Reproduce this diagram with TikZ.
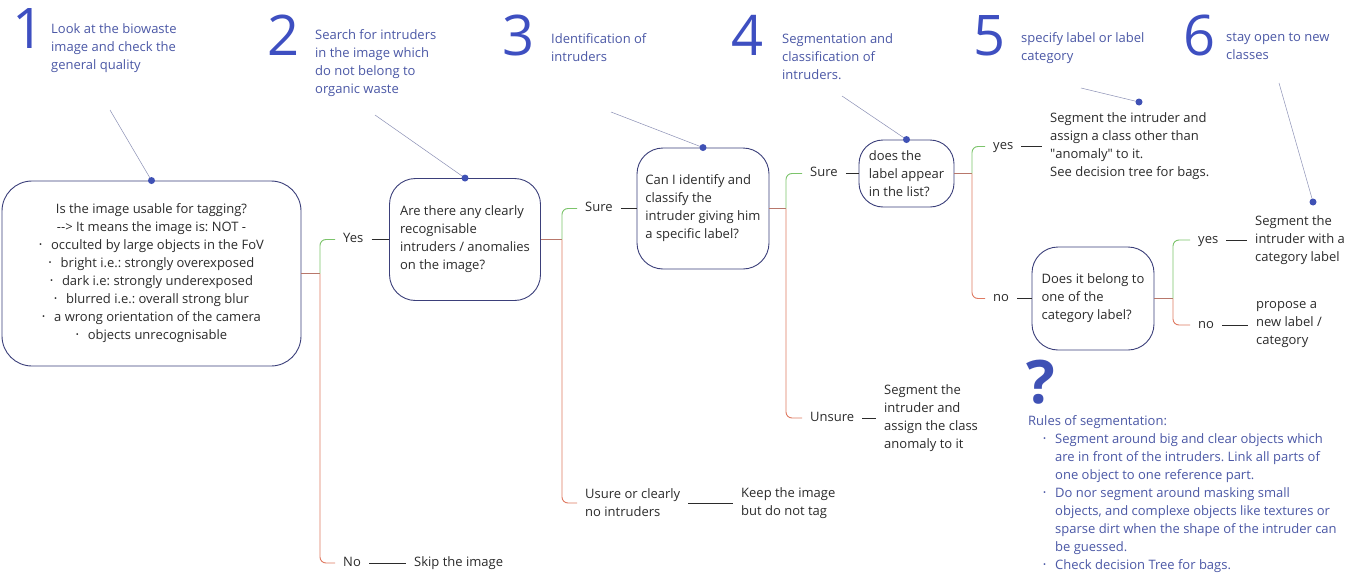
\documentclass[tikz,border=0pt]{standalone}
\usepackage{fontspec}
\setmainfont{Open Sans}
\newfontfamily\rawfont{Open Sans}
\frenchspacing

\definecolor{numblue}{HTML}{3E4FC1}
\definecolor{capblue}{HTML}{4B58A6}
\definecolor{boxline}{HTML}{3B3F7A}
\definecolor{ink}{HTML}{2B2B2B}
\definecolor{pointline}{HTML}{8A8FB5}
\definecolor{dotblue}{HTML}{3F51B5}
\definecolor{yesgreen}{HTML}{7CC46B}
\definecolor{nored}{HTML}{DF7A62}
\definecolor{stubbrown}{HTML}{B8776B}

\newcommand{\bul}{\makebox[12pt][l]{\raisebox{2.3pt}{\fontsize{8}{8}\selectfont\textbullet}}}
\newcommand{\ruleitem}{\hspace*{15pt}\bul}
\newcommand{\rulecont}{\hspace*{27pt}}

\begin{document}
\begin{tikzpicture}[x=1pt, y=-1pt, font=\fontsize{13}{18}\selectfont, text=ink,
  box/.style = {draw=boxline, line width=0.9pt, align=left, inner sep=0pt},
  num/.style = {anchor=base west, inner sep=0pt, text=numblue, font=\fontsize{56}{56}\selectfont},
  caption/.style = {anchor=west, inner sep=0pt, align=left, text=capblue},
  lbl/.style = {anchor=west, inner xsep=8pt, inner ysep=2pt, text height=9.3pt, text depth=3pt},
  result/.style = {anchor=west, inner xsep=8pt, inner ysep=0pt, align=left},
  branch/.style = {line width=0.9pt, rounded corners=6pt},
  yesline/.style = {branch, draw=yesgreen},
  noline/.style = {branch, draw=nored},
  stub/.style = {line width=0.9pt, draw=stubbrown},
  link/.style = {line width=0.8pt, draw=ink},
  pointer/.style = {line width=0.5pt, draw=pointline},
  dot/.style = {fill=dotblue}
]
\path[fill=white] (0,0) rectangle (1353,581);
\useasboundingbox (0,0) rectangle (1353,581);

\node[num] (n1) at (12,48) {1};
\node[num] (n2) at (267,55) {2};
\node[num] (n3) at (502,55) {3};
\node[num] (n4) at (731,55) {4};
\node[num] (n5) at (973,55) {5};
\node[num] (n6) at (1183,55) {6};
\node[caption] (cap1) at (51,48) {Look at the biowaste\\image and check the\\general quality};
\node[caption] (cap2) at (315,63.5) {Search for intruders\\in the image which\\do not belong to\\organic waste};
\node[caption] (cap3) at (551,47.5) {Identification of\\intruders};
\node[caption] (cap4) at (782,57) {Segmentation and\\classification of\\intruders.};
\node[caption] (cap5) at (1021,48) {specify label or label\\category};
\node[caption] (cap6) at (1226,46) {stay open to new\\classes};

\node[box, align=center, minimum width=299pt, minimum height=185pt, rounded corners=30pt] (usable) at (151.5,273.5)
  {Is the image usable for tagging?\\{\rawfont-->} It means the image is: NOT -\\\bul occulted by large objects in the FoV\\\bul bright i.e.: strongly overexposed\\\bul dark i.e: strongly underexposed\\\bul blurred i.e.: overall strong blur\\\bul a wrong orientation of the camera\\\bul objects unrecognisable};
\node[box, minimum width=151pt, minimum height=122pt, rounded corners=26pt] (intruders) at (465,239.5)
  {Are there any clearly\\recognisable\\intruders / anomalies\\on the image?};
\node[box, minimum width=132pt, minimum height=121pt, rounded corners=26pt] (identify) at (703,208.5)
  {Can I identify and\\classify the\\intruder giving him\\a specific label?};
\node[box, minimum width=95pt, minimum height=67pt, rounded corners=24pt] (inlist) at (906.5,173.5)
  {does the\\label appear\\in the list?};
\node[box, minimum width=122pt, minimum height=103pt, rounded corners=26pt] (category) at (1093,298.5)
  {Does it belong to\\one of the\\category label?};

\node[lbl] (yes_usable) at (335,239.5) {Yes};
\node[lbl] (no_usable) at (335,563) {No};
\node[lbl] (sure_intr) at (577,208.5) {Sure};
\node[result] (unsure_intr) at (577,503) {Usure or clearly\\no intruders};
\node[lbl] (sure_id) at (802,173.5) {Sure};
\node[lbl] (unsure_id) at (802,418) {Unsure};
\node[lbl] (yes_list) at (985,146.5) {yes};
\node[lbl] (no_list) at (985,298.5) {no};
\node[lbl] (yes_cat) at (1190,240) {yes};
\node[lbl] (no_cat) at (1190,325) {no};

\node[result] (skip) at (406,563) {Skip the image};
\node[result] (keep) at (733,503) {Keep the image\\but do not tag};
\node[result] (anomaly) at (876,418) {Segment the\\intruder and\\assign the class\\anomaly to it};
\node[result] (other_class) at (1042,146.5) {Segment the intruder and\\assign a class other than\\{\rawfont"}anomaly{\rawfont"} to it.\\See decision tree for bags.};
\node[result] (cat_label) at (1247,240) {Segment the\\intruder with a\\category label};
\node[result] (new_label) at (1248,325) {propose a\\new label /\\category};

\coordinate (b_usable) at (320,273.5);
\coordinate (b_intr) at (562,239.5);
\coordinate (b_id) at (786,208.5);
\coordinate (b_list) at (972,173.5);
\coordinate (b_cat) at (1173,298.5);
\draw[stub] (usable.east) -- (b_usable);
\draw[yesline] (b_usable) |- (yes_usable.west);
\draw[noline] (b_usable) |- (no_usable.west);
\draw[stub] (intruders.east) -- (b_intr);
\draw[yesline] (b_intr) |- (sure_intr.west);
\draw[noline] (b_intr) |- (unsure_intr.west);
\draw[stub] (identify.east) -- (b_id);
\draw[yesline] (b_id) |- (sure_id.west);
\draw[noline] (b_id) |- (unsure_id.west);
\draw[stub] (inlist.east) -- (b_list);
\draw[yesline] (b_list) |- (yes_list.west);
\draw[noline] (b_list) |- (no_list.west);
\draw[stub] (category.east) -- (b_cat);
\draw[yesline] (b_cat) |- (yes_cat.west);
\draw[noline] (b_cat) |- (no_cat.west);

\draw[link] (yes_usable.east) -- (intruders.west);
\draw[link] (no_usable.east) -- (skip.west);
\draw[link] (sure_intr.east) -- (identify.west);
\draw[link] (unsure_intr.east) -- (keep.west);
\draw[link] (sure_id.east) -- (inlist.west);
\draw[link] (unsure_id.east) -- (anomaly.west);
\draw[link] (yes_list.east) -- (other_class.west);
\draw[link] (no_list.east) -- (category.west);
\draw[link] (yes_cat.east) -- (cat_label.west);
\draw[link] (no_cat.east) -- (new_label.west);

\coordinate (p1) at (110,110);
\coordinate (p2) at (375,115);
\coordinate (p3) at (611,112);
\coordinate (p4) at (842,96);
\coordinate (p5) at (1081,88);
\coordinate (p6) at (1279,83);
\coordinate (d5) at (1139,102);
\coordinate (d6) at (1313,202);
\draw[pointer] (p1) -- (usable.north);
\draw[pointer] (p2) -- (intruders.north);
\draw[pointer] (p3) -- (identify.north);
\draw[pointer] (p4) -- (inlist.north);
\draw[pointer] (p5) -- (d5);
\draw[pointer] (p6) -- (d6);
\fill[dot] (usable.north) circle (3.5pt);
\fill[dot] (intruders.north) circle (3.5pt);
\fill[dot] (identify.north) circle (3.5pt);
\fill[dot] (inlist.north) circle (3.5pt);
\fill[dot] (d5) circle (3.5pt);
\fill[dot] (d6) circle (3.5pt);

\node[anchor=base west, inner sep=0pt, text=dotblue, font=\fontsize{60}{60}\selectfont\bfseries] (qmark) at (1026,403) {?};
\node[caption] (rules) at (1028,494) {Rules of segmentation:\\
  \ruleitem Segment around big and clear objects which\\
  \rulecont are in front of the intruders. Link all parts of\\
  \rulecont one object to one reference part.\\
  \ruleitem Do nor segment around masking small\\
  \rulecont objects, and complexe objects like textures or\\
  \rulecont sparse dirt when the shape of the intruder can\\
  \rulecont be guessed.\\
  \ruleitem Check decision Tree for bags.};
\end{tikzpicture}
\end{document}
